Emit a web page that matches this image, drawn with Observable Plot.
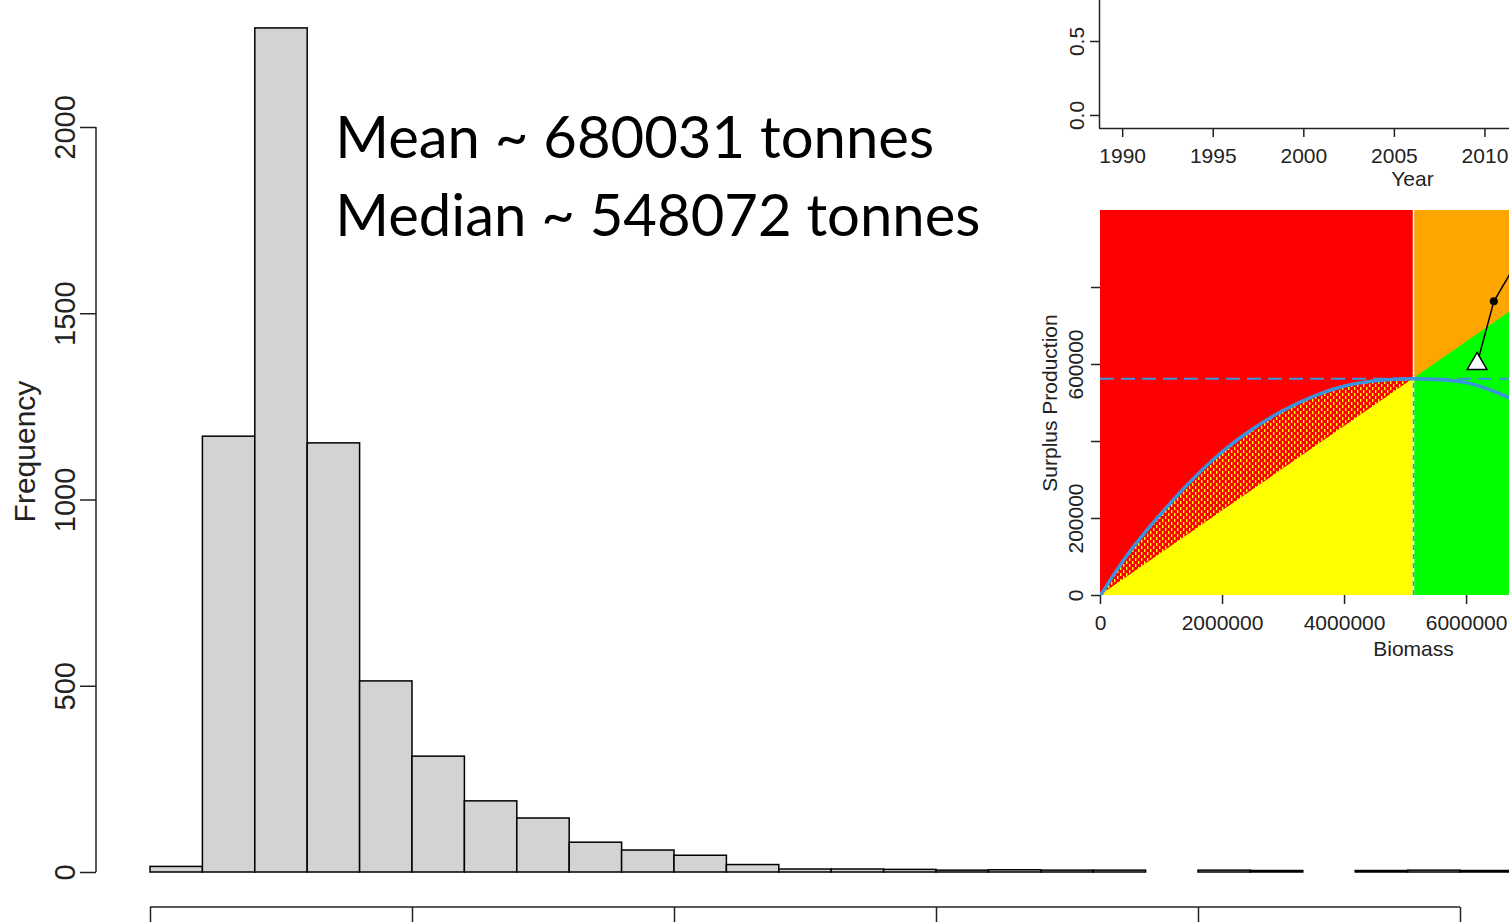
<!DOCTYPE html>
<html>
<head>
<meta charset="utf-8">
<script src="https://cdn.jsdelivr.net/npm/d3@7"></script>
<script src="https://cdn.jsdelivr.net/npm/@observablehq/plot@0.6"></script>
<style>
  html, body { margin: 0; padding: 0; background: #fff; overflow: hidden; }
  #wrap { position: relative; width: 1509px; height: 922px; overflow: hidden; background: #fff; }
  .layer { position: absolute; overflow: hidden; background: #fff; }
  #wrap svg { display: block; max-width: none !important; }
</style>
</head>
<body>
<div id="wrap"></div>
<script>
// ---------------- Histogram data (bins of 200 000 tonnes) ----------------
const binLower = [0, 200000, 400000, 600000, 800000, 1000000, 1200000, 1400000, 1600000, 1800000,
                  2000000, 2200000, 2400000, 2600000, 2800000, 3000000, 3200000, 3400000, 3600000, 3800000,
                  4000000, 4200000, 4400000, 4600000, 4800000, 5000000];
const binCounts = [15, 1170, 2266, 1152, 513, 311, 191, 145, 80, 59,
                   45, 20, 8, 8, 7, 5, 6, 5, 5, 0,
                   5, 4, 0, 4, 5, 4];
const binWidth = 200000;
const freqTicks = [0, 500, 1000, 1500, 2000];
const histXTicks = [0, 1000000, 2000000, 3000000, 4000000, 5000000];
const meanTonnes = 680031;
const medianTonnes = 548072;
const statLines = [`Mean ~ ${meanTonnes} tonnes`, `Median ~ ${medianTonnes} tonnes`];
const statAnchor = {biomass: 705000, freq: 1710};

// ---------------- Inset 1: time-series panel (only axes visible) ----------------
const yearTicks = [1990, 1995, 2000, 2005, 2010, 2015, 2020];
const ratioTicks = [0, 0.5];
const yearLimits = [1988.72, 2023.28];
const ratioLimits = [-0.088, 0.777];

// ---------------- Inset 2: surplus production vs biomass ----------------
const prodBiomass = [0, 250000, 500000, 750000, 1000000, 1500000, 2000000, 2500000, 3000000,
                     3500000, 4000000, 4500000, 5130000, 5500000, 6000000, 6500000, 7000000, 7500000];
const prodSurplus = [0, 62000, 118000, 168000, 214000, 300000, 374000, 433000, 481000,
                     518000, 544000, 558000, 563000, 561000, 553000, 527000, 490000, 445000];
const trajBiomass = [6885000, 6447000, 6172000];
const trajSurplus = [883000, 764000, 602000];
const Bmsy = 5130000, MSY = 563000, Kmax = 10260000, spMax = 1000000;
const kobeXTicks = [0, 2000000, 4000000, 6000000, 8000000, 10000000];
const kobeYTicks = [0, 200000, 400000, 600000, 800000];
const kobeYLabelled = [0, 200000, 600000];

const ink = "#222";
const blue = "#3a93dc";
const baseFont = "'Liberation Sans', Arial, sans-serif";
const NS = "http://www.w3.org/2000/svg";
const intFmt = d3.format("d");

// ---------------- Main histogram ----------------
const histRows = binLower.map((lo, i) => ({lo, hi: lo + binWidth, n: binCounts[i]}));

const histAxisLines = (index, scales, values, dims) => {
  const g = document.createElementNS(NS, "g");
  g.setAttribute("stroke", ink);
  g.setAttribute("stroke-width", "1.5");
  const seg = (x1, y1, x2, y2) => {
    const l = document.createElementNS(NS, "line");
    l.setAttribute("x1", x1); l.setAttribute("y1", y1);
    l.setAttribute("x2", x2); l.setAttribute("y2", y2);
    g.appendChild(l);
  };
  seg(dims.marginLeft, scales.y(freqTicks[0]), dims.marginLeft, scales.y(freqTicks[freqTicks.length - 1]));
  const yb = dims.height - dims.marginBottom;
  seg(scales.x(histXTicks[0]), yb, scales.x(histXTicks[histXTicks.length - 1]), yb);
  return g;
};

const main = Plot.plot({
  width: 1509, height: 922,
  marginLeft: 96, marginRight: 0, marginTop: 0, marginBottom: 15,
  x: {domain: [histXTicks[0], histXTicks[histXTicks.length - 1]], range: [150, 1460]},
  y: {domain: [0, 2000], range: [872, 127]},
  style: {fontFamily: baseFont, color: ink, background: "transparent"},
  marks: [
    Plot.rect(histRows, {x1: "lo", x2: "hi", y1: 0, y2: "n", fill: "#d3d3d3", stroke: "#000", strokeWidth: 1.5}),
    Plot.axisY({ticks: freqTicks, tickSize: 16, tickPadding: 6, tickRotate: -90, tickFormat: intFmt, fontSize: 29, label: null, stroke: ink, strokeWidth: 1.5}),
    Plot.axisX({ticks: histXTicks, tickSize: 20, tickFormat: () => "", label: null, stroke: ink, strokeWidth: 1.5}),
    histAxisLines,
    Plot.text(["Frequency"], {frameAnchor: "left", textAnchor: "middle", rotate: -90, fontSize: 30, dx: -71, dy: -2.5, fill: ink}),
    Plot.text([statLines.join("\n")], {
      x: statAnchor.biomass, y: statAnchor.freq, textAnchor: "start", lineAnchor: "bottom",
      lineHeight: 1.33, fontSize: 58, fontFamily: "Lato, 'Open Sans', sans-serif", fill: "#000"
    })
  ]
});
main.style.position = "absolute";
main.style.left = "0px";
main.style.top = "0px";
document.getElementById("wrap").appendChild(main);

function place(node, left, top, w, h) {
  const d = document.createElement("div");
  d.className = "layer";
  d.style.left = left + "px"; d.style.top = top + "px";
  d.style.width = w + "px"; d.style.height = h + "px";
  node.style.maxWidth = "none";
  d.appendChild(node);
  document.getElementById("wrap").appendChild(d);
}

// ---------------- Inset 1 ----------------
const topPanel = Plot.plot({
  width: 720, height: 195,
  marginLeft: 69, marginRight: 25, marginTop: 0, marginBottom: 67,
  x: {domain: yearLimits},
  y: {domain: ratioLimits},
  style: {fontFamily: baseFont, color: ink, background: "#fff"},
  marks: [
    Plot.ruleX([yearLimits[0]], {stroke: ink, strokeWidth: 1.5}),
    Plot.ruleY([ratioLimits[0]], {stroke: ink, strokeWidth: 1.5}),
    Plot.axisX({ticks: yearTicks, tickSize: 9, tickPadding: 11, tickFormat: intFmt, fontSize: 21, label: null, stroke: ink, strokeWidth: 1.5}),
    Plot.axisY({ticks: ratioTicks, tickSize: 9, tickPadding: 7, tickRotate: -90, tickFormat: d3.format(".1f"), fontSize: 21, label: null, stroke: ink, strokeWidth: 1.5}),
    Plot.text(["Year"], {frameAnchor: "bottom", dy: 57, fontSize: 21, fill: ink})
  ]
});
place(topPanel, 1030, 0, 479, 195);

// ---------------- Inset 2 ----------------
const prodRows = prodBiomass.map((b, i) => ({b, s: prodSurplus[i]}));
const trajRows = trajBiomass.map((b, i) => ({b, s: trajSurplus[i]}));
const lastTraj = trajRows.slice(-1);
const trajPoints = trajRows.slice(0, -1);

const kobe = Plot.plot({
  width: 720, height: 470,
  marginLeft: 70, marginRight: 24, marginTop: 15, marginBottom: 70,
  x: {domain: [0, Kmax]},
  y: {domain: [0, spMax]},
  style: {fontFamily: baseFont, color: ink, background: "#fff"},
  marks: [
    Plot.rect([{}], {x1: 0, x2: Bmsy, y1: 0, y2: spMax, fill: "#ff0000"}),
    Plot.rect([{}], {x1: Bmsy, x2: Kmax, y1: 0, y2: spMax, fill: "#ffa500"}),
    Plot.areaY(prodRows.filter(d => d.b <= Bmsy), {x: "b", y1: 0, y2: "s", fill: "url(#hatchRY)"}),
    Plot.areaY([{b: 0, s: 0}, {b: Bmsy, s: MSY}], {x: "b", y1: 0, y2: "s", fill: "#ffff00"}),
    Plot.areaY([{b: Bmsy, s: MSY}, {b: Kmax, s: MSY * Kmax / Bmsy}], {x: "b", y1: 0, y2: "s", fill: "#00ff00", clip: true}),
    Plot.ruleX([Bmsy], {y1: 0, y2: spMax, stroke: "#fff", strokeWidth: 1.5}),
    Plot.ruleX([Bmsy], {y1: 0, y2: MSY, stroke: blue, strokeWidth: 1.5, strokeDasharray: "5,4"}),
    Plot.ruleY([MSY], {stroke: blue, strokeWidth: 2, strokeDasharray: "14,7"}),
    Plot.line(prodRows, {x: "b", y: "s", stroke: blue, strokeWidth: 3.5, curve: "monotone-x", clip: true}),
    Plot.line(trajRows, {x: "b", y: "s", stroke: "#000", strokeWidth: 1.5, clip: true}),
    Plot.dot(trajPoints, {x: "b", y: "s", r: 4, fill: "#000", clip: true}),
    Plot.dot(lastTraj, {x: "b", y: "s", symbol: "triangle", r: 7.3, fill: "#fff", stroke: "#000", strokeWidth: 1.5}),
    Plot.axisX({ticks: kobeXTicks, tickSize: 9, tickPadding: 11, tickFormat: intFmt, fontSize: 21, label: null, stroke: ink, strokeWidth: 1.5}),
    Plot.axisY({ticks: kobeYTicks, tickSize: 9, tickPadding: 9, tickRotate: -90,
      tickFormat: d => kobeYLabelled.includes(d) ? intFmt(d) : "", fontSize: 21, label: null, stroke: ink, strokeWidth: 1.5}),
    Plot.text(["Biomass"], {frameAnchor: "bottom", dy: 60, fontSize: 21, fill: ink}),
    Plot.text(["Surplus Production"], {frameAnchor: "left", textAnchor: "middle", rotate: -90, dx: -50, fontSize: 21, fill: ink})
  ]
});
const defs = document.createElementNS(NS, "defs");
defs.innerHTML = '<pattern id="hatchRY" width="6" height="6" patternUnits="userSpaceOnUse">' +
  '<rect width="6" height="6" fill="#ff0000"/>' +
  '<rect x="0" y="0" width="1.4" height="3" fill="#ffff00"/>' +
  '<rect x="3" y="3" width="1.4" height="3" fill="#ffff00"/></pattern>';
kobe.insertBefore(defs, kobe.firstChild);
place(kobe, 1030, 195, 479, 470);
</script>
</body>
</html>
